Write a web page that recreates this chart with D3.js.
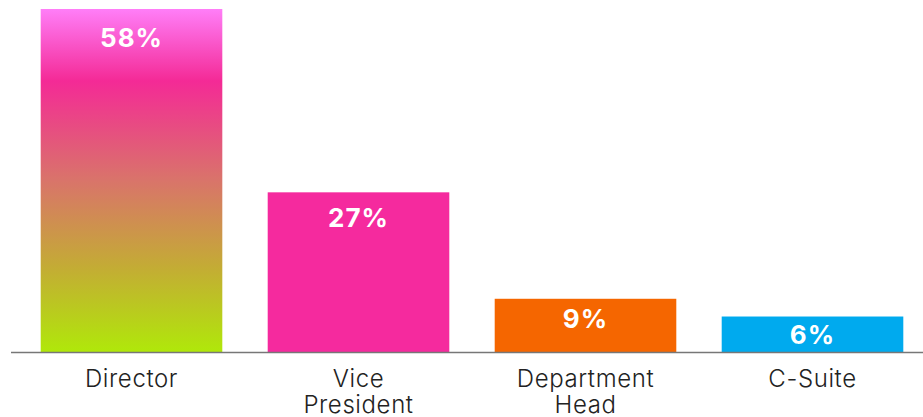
<!DOCTYPE html>
<html>
<head>
<meta charset="utf-8">
<script src="https://cdn.jsdelivr.net/npm/d3@7"></script>
<style>
  html, body { margin: 0; padding: 0; background: #fff; }
  svg { display: block; }
</style>
</head>
<body>
<svg id="chart" width="923" height="417"></svg>
<script>
// Share of respondents by job level
const categories = ["Director", "Vice President", "Department Head", "C-Suite"];
const labelLines = [["Director"], ["Vice", "President"], ["Department", "Head"], ["C-Suite"]];
const values = [58, 27, 9, 6];
const valueLabels = ["58%", "27%", "9%", "6%"];
const barColors = ["url(#directorGrad)", "#F52A9E", "#F56600", "#00AAEE"];

const width = 923, height = 417;
const baseY = 352, topY = 9;
const fontFamily = "Inter, 'Noto Sans', sans-serif";

const svg = d3.select("#chart");

// vertical gradient for the leading bar
const grad = svg.append("defs").append("linearGradient")
  .attr("id", "directorGrad")
  .attr("x1", 0).attr("y1", 0).attr("x2", 0).attr("y2", 1);
[
  [0.00, "#FF7EF8"],
  [0.21, "#F42A96"],
  [0.50, "#D9746A"],
  [0.75, "#C4AB35"],
  [1.00, "#B0E80A"]
].forEach(([o, c]) => grad.append("stop").attr("offset", o).attr("stop-color", c));

const x = d3.scaleBand()
  .domain(categories)
  .range([18, 926])
  .paddingInner(0.2)
  .paddingOuter(0.1);

const y = d3.scaleLinear()
  .domain([0, 58])
  .range([baseY, topY]);

// value labels sit a little deeper inside taller bars
const labelDrop = d3.scaleLog().domain([37, 343]).range([27, 38]).clamp(true);

const data = categories.map((c, i) => ({ cat: c, v: values[i], label: valueLabels[i], lines: labelLines[i], color: barColors[i] }));

// bars
svg.append("g").selectAll("rect")
  .data(data)
  .join("rect")
  .attr("x", d => x(d.cat))
  .attr("y", d => y(d.v))
  .attr("width", x.bandwidth())
  .attr("height", d => y(0) - y(d.v))
  .attr("fill", d => d.color);

// value labels inside the bars
svg.append("g").selectAll("text")
  .data(data)
  .join("text")
  .attr("x", d => x(d.cat) + x.bandwidth() / 2)
  .attr("y", d => y(d.v) + labelDrop(y(0) - y(d.v)))
  .attr("text-anchor", "middle")
  .attr("font-family", fontFamily)
  .attr("font-weight", 700)
  .attr("font-size", 26)
  .attr("letter-spacing", 1)
  .attr("fill", "#fff")
  .text(d => d.label);

// baseline
svg.append("line")
  .attr("x1", 11).attr("x2", 923)
  .attr("y1", baseY + 0.5).attr("y2", baseY + 0.5)
  .attr("stroke", "#777")
  .attr("stroke-width", 1.6);

// category labels, wrapped onto lines
const cats = svg.append("g").selectAll("text")
  .data(data)
  .join("text")
  .attr("text-anchor", "middle")
  .attr("font-family", fontFamily)
  .attr("font-weight", 300)
  .attr("font-size", 24)
  .attr("letter-spacing", 0.6)
  .attr("fill", "#222");
cats.each(function(d) {
  const t = d3.select(this);
  d.lines.forEach((ln, j) => {
    t.append("tspan")
      .attr("x", x(d.cat) + x.bandwidth() / 2)
      .attr("y", 387 + j * 26)
      .text(ln);
  });
});
</script>
</body>
</html>
